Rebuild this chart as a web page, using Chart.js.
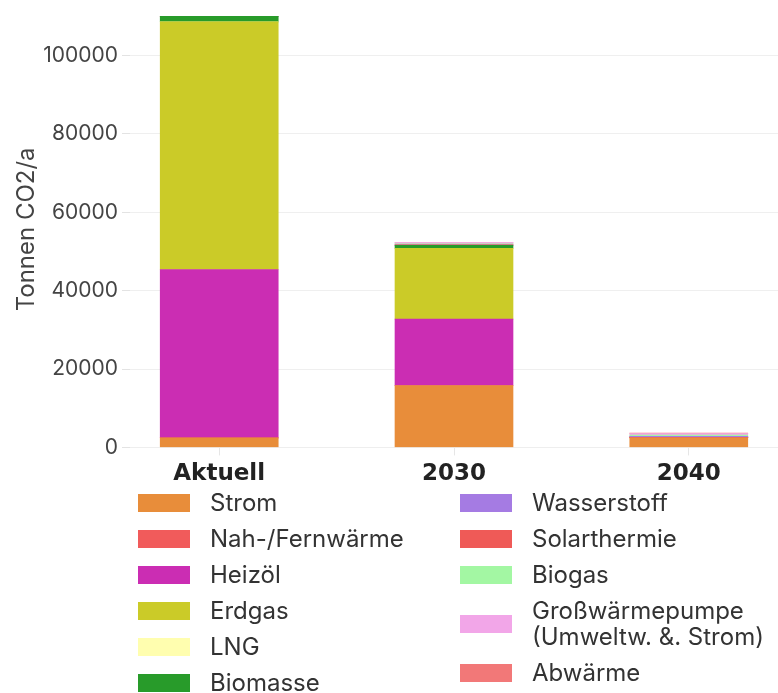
<!DOCTYPE html>
<html>
<head>
<meta charset="utf-8">
<script src="https://cdn.jsdelivr.net/npm/chart.js@4"></script>
<style>
  html, body { margin: 0; padding: 0; background: #fff; }
  #wrap { position: relative; width: 778px; height: 693px; font-family: Inter, "DejaVu Sans", sans-serif; }
  #c { position: absolute; left: 0; top: 0; }
  #legend { position: absolute; left: 0; top: 485px; width: 778px; }
  .col { position: absolute; top: 0; }
  .item { display: flex; align-items: center; padding: 5px 0; }
  .box { width: 52px; height: 18px; flex: none; }
  .txt { font-size: 24px; line-height: 26px; color: #333; white-space: nowrap; }
</style>
</head>
<body>
<div id="wrap">
  <canvas id="c" width="778" height="501"></canvas>
  <div id="legend"></div>
</div>
<script>
const categories = ["Aktuell", "2030", "2040"];
const seriesNames = ["Strom", "Nah-/Fernwärme", "Heizöl", "Erdgas", "LNG", "Biomasse",
  "Wasserstoff", "Solarthermie", "Biogas", "Großwärmepumpe\n(Umweltw. &. Strom)", "Abwärme"];
const strom = [2450, 15800, 2450];
const nahFernwaerme = [0, 0, 100];
const heizoel = [42950, 16950, 0];
const erdgas = [63200, 18050, 0];
const lng = [0, 0, 0];
const biomasse = [1450, 750, 0];
const wasserstoff = [0, 100, 250];
const solarthermie = [0, 150, 50];
const biogas = [0, 150, 300];
const grosswaermepumpe = [0, 350, 400];
const abwaerme = [0, 0, 80];
const yTicks = [0, 20000, 40000, 60000, 80000, 100000];
const colors = ["#E88D3A", "#F15B5B", "#CB2DB3", "#CBCB28", "#FFFEAF", "#289B2A",
  "#A57BE3", "#EF5A57", "#A3F7A3", "#F2A6E8", "#F27878"];

const values = [strom, nahFernwaerme, heizoel, erdgas, lng, biomasse,
  wasserstoff, solarthermie, biogas, grosswaermepumpe, abwaerme];

const datasets = seriesNames.map((name, i) => ({
  label: name,
  data: values[i].map((v, j) => ({ x: j + 1, y: v })),
  backgroundColor: colors[i],
  borderWidth: 0,
  barThickness: 118
}));

const chart = new Chart(document.getElementById("c"), {
  type: "bar",
  data: { datasets },
  options: {
    responsive: false,
    animation: false,
    layout: { padding: { top: 0, right: 0, bottom: 8, left: 0 } },
    plugins: { legend: { display: false }, tooltip: { enabled: false } },
    scales: {
      x: {
        type: "linear",
        stacked: true,
        offset: false,
        min: 0.62,
        max: 3.38,
        afterBuildTicks: (s) => { s.ticks = categories.map((c, i) => ({ value: i + 1 })); },
        grid: { display: true, offset: false, drawOnChartArea: false, drawTicks: true, tickLength: 8, tickColor: "#e6e6e6" },
        border: { display: true, color: "#eeeeee" },
        ticks: {
          padding: 5,
          color: "#222",
          font: { family: "DejaVu Sans", size: 23, weight: "bold" },
          callback: (v) => categories[v - 1]
        }
      },
      y: {
        stacked: true,
        min: 0,
        max: 111300,
        afterBuildTicks: (s) => { s.ticks = yTicks.map(v => ({ value: v })); },
        afterFit: (s) => { s.width = 130; },
        grid: { color: "#efefef", tickColor: "#e3e3e3", tickLength: 8, drawTicks: true },
        border: { display: false },
        title: {
          display: true,
          text: "Tonnen CO2/a",
          color: "#444",
          font: { family: "Inter", size: 24 },
          padding: { top: 12, bottom: 0 }
        },
        ticks: {
          padding: 4,
          color: "#444",
          font: { family: "Inter", size: 21, lineHeight: 0.7 },
          callback: (v) => String(v)
        }
      }
    }
  }
});

// HTML legend built from the chart's datasets (two columns)
const legend = document.getElementById("legend");
const colDefs = [{ left: 138, from: 0, to: 6, width: 300 }, { left: 460, from: 6, to: 11, width: 318 }];
colDefs.forEach(cd => {
  const col = document.createElement("div");
  col.className = "col";
  col.style.left = cd.left + "px";
  col.style.width = cd.width + "px";
  chart.data.datasets.slice(cd.from, cd.to).forEach(ds => {
    const item = document.createElement("div");
    item.className = "item";
    const box = document.createElement("div");
    box.className = "box";
    box.style.background = ds.backgroundColor;
    box.style.marginRight = "20px";
    const txt = document.createElement("div");
    txt.className = "txt";
    ds.label.split("\n").forEach((line, k) => {
      if (k > 0) txt.appendChild(document.createElement("br"));
      txt.appendChild(document.createTextNode(line));
    });
    item.appendChild(box);
    item.appendChild(txt);
    col.appendChild(item);
  });
  legend.appendChild(col);
});
</script>
</body>
</html>
